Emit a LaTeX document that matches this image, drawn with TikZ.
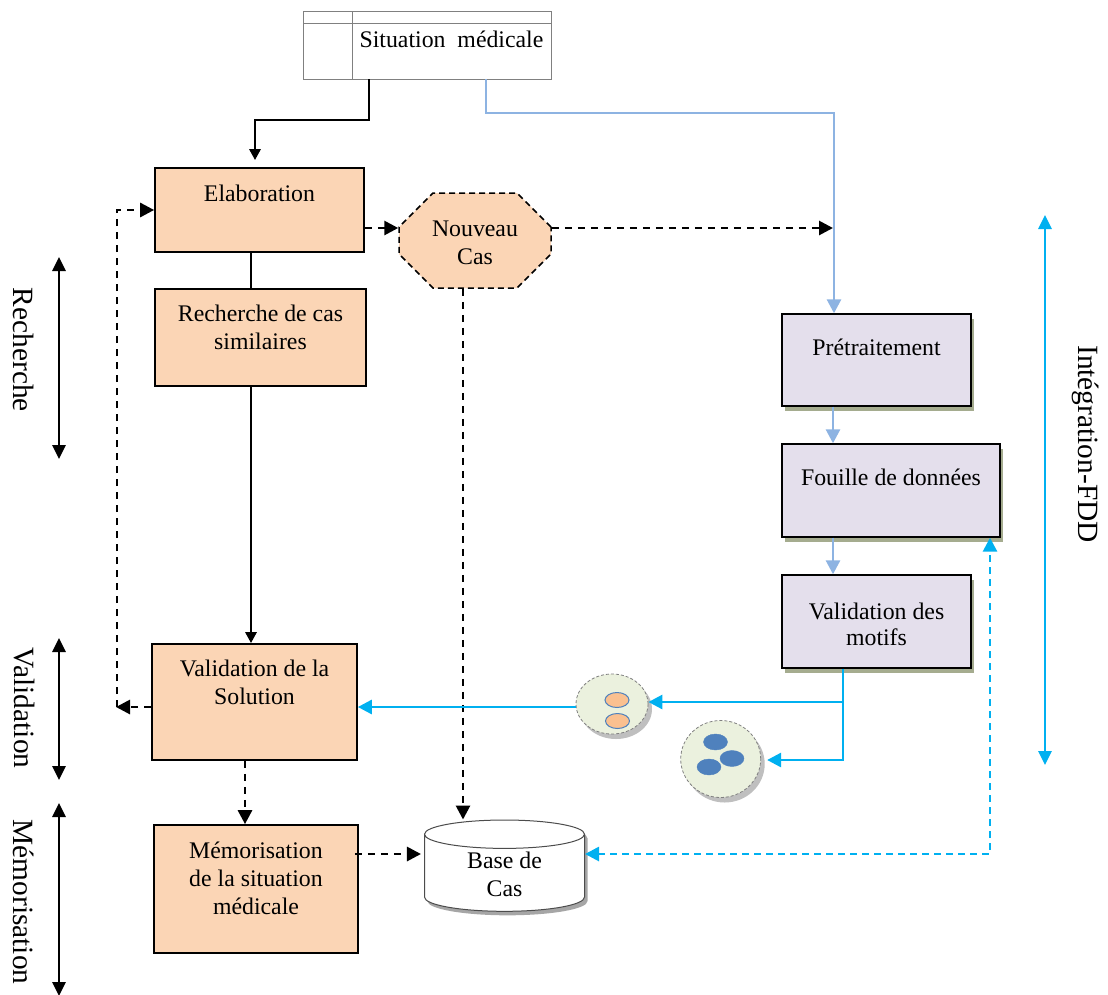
\documentclass[tikz,border=0pt]{standalone}
\usepackage{fontspec}
\setmainfont{Liberation Serif}
\usetikzlibrary{shapes.misc,shapes.geometric,arrows.meta,shadows}
\definecolor{peach}{HTML}{FBD5B5}
\definecolor{lilac}{HTML}{E4DFEC}
\definecolor{olivegrey}{HTML}{A5AC8F}
\definecolor{skyline}{HTML}{00B0F0}
\definecolor{paleline}{HTML}{8DB3E2}
\definecolor{palegreen}{HTML}{EBF1DE}
\definecolor{motifblue}{HTML}{4F81BD}
\definecolor{motiforange}{HTML}{FAC090}
\tikzstyle{etape} = [draw, line width=1.7pt, fill=peach, align=center, font=\fontsize{23.8}{28}\selectfont, inner sep=0pt]
\tikzstyle{fdd} = [etape, line width=1.4pt, fill=lilac, drop shadow={shadow xshift=3pt, shadow yshift=-5pt, fill=olivegrey, opacity=1}]
\tikzstyle{lien} = [line width=2.8pt, -{Triangle[length=11pt,width=11pt]}]
\tikzstyle{lienblue} = [line width=2.8pt, color=skyline, -{Triangle[length=14pt,width=14pt]}]
\tikzstyle{lienpale} = [line width=2.8pt, color=paleline, -{Triangle[length=14pt,width=14pt]}]
\tikzstyle{dashlien} = [line width=2.8pt, dash pattern=on 7pt off 6pt, -{Triangle[length=14pt,width=14pt]}]
\tikzstyle{phase} = [line width=2.8pt, {Triangle[length=14pt,width=13pt]}-{Triangle[length=14pt,width=13pt]}]
\tikzstyle{phasetext} = [rotate=-90, font=\fontsize{29.4}{32}\selectfont]
\tikzstyle{motifs} = [ellipse, draw=gray, densely dashed, line width=0.8pt, fill=palegreen, drop shadow={shadow xshift=4pt, shadow yshift=-5pt, fill=black!25, opacity=1}]
\begin{document}
\begin{tikzpicture}[x=1pt,y=-1pt]
\useasboundingbox (0,0) rectangle (1108,994);
% colonnes et lignes des liens
\coordinate (colnoir) at (369,0);
\coordinate (colfdd) at (486,0);
\coordinate (coltrait) at (834,0);
\coordinate (colretour) at (117,0);
\coordinate (colbase) at (990,0);
\coordinate (lignecas) at (0,228);
\coordinate (lignevalid) at (0,707);
\coordinate (lignebase) at (0,854);
\coordinate (coudenoir) at (369,120);
\coordinate (coudefdd) at (486,113);
\coordinate (coudebase) at (990,854);
\coordinate (finretour) at (116,707);
\coordinate (fincas) at (833,228);
\coordinate (fourche) at (843,702);
\coordinate (coudemotif) at (843,760);
\coordinate (rechhaut) at (59,257);
\coordinate (rechbas) at (59,459);
\coordinate (validhaut) at (59,638);
\coordinate (validbas) at (59,780);
\coordinate (memohaut) at (59,803);
\coordinate (memobas) at (59,996);
\coordinate (fddhaut) at (1045,215);
\coordinate (fddbas) at (1045,765);
% situation
\node [minimum width=199pt, minimum height=56pt, text depth=24pt, inner sep=0pt, font=\fontsize{23.8}{28}\selectfont] (situation) at (451.5,51) {Situation\ \ médicale};
\draw [color=gray, line width=1pt] (303,11) rectangle (situation.south east);
\draw [color=gray, line width=1pt] (303,23) -- (551,23);
\draw [color=gray, line width=1pt] (352,11) -- (352,79);
% etapes
\node [etape, minimum width=209pt, minimum height=84pt, text depth=34pt] (elaboration) at (259.5,210) {Elaboration};
\node [etape, minimum width=211pt, minimum height=97pt, text depth=20pt] (recherche) at (260.5,337.5) {Recherche de cas\\similaires};
\node [etape, minimum width=205pt, minimum height=116pt, text depth=40pt] (validation) at (254.5,702) {Validation de la\\Solution};
\node [etape, minimum width=204pt, minimum height=128pt, text depth=22pt] (memorisation) at (256,889) {Mémorisation\\de la situation\\médicale};
\node [etape, chamfered rectangle, chamfered rectangle xsep=20pt, chamfered rectangle ysep=14pt, draw, dash pattern=on 6pt off 4pt, line width=1.5pt, minimum width=152pt, minimum height=95pt, text height=48pt] (nouveau) at (475,240.5) {Nouveau\\Cas};
\node [cylinder, shape border rotate=90, aspect=0.38, draw=black!70, line width=1pt, fill=white, minimum width=160pt, minimum height=90pt, align=center, inner sep=0pt, text height=48pt, font=\fontsize{23.8}{28}\selectfont, drop shadow={shadow xshift=3pt, shadow yshift=-4pt, fill=black!35, opacity=1}] (base) at (504.5,873) {Base de\\Cas};
% fouille
\node [fdd, minimum width=189pt, minimum height=92pt, text depth=26pt] (pretraitement) at (876.5,360) {Prétraitement};
\node [fdd, minimum width=218pt, minimum height=93pt, text depth=26pt] (fouille) at (891,490.5) {Fouille de données};
\node [fdd, minimum width=189pt, minimum height=93pt, text height=48pt] (motifsval) at (876.5,621.5) {Validation des\\[-2pt]motifs};
% groupes de motifs
\node [motifs, minimum width=72pt, minimum height=60pt, inner sep=0pt] (groupeA) at (612,704) {};
\node [motifs, minimum width=80pt, minimum height=77pt, inner sep=0pt] (groupeB) at (720.7,759) {};
\draw [color=motifblue, fill=motiforange, line width=1pt] (617,700) ellipse (12pt and 7.5pt);
\draw [color=motifblue, fill=motiforange, line width=1pt] (617.5,721) ellipse (12pt and 7.5pt);
\draw [fill=motifblue, draw=motifblue] (715.5,742) ellipse (12pt and 8pt);
\draw [fill=motifblue, draw=motifblue] (732,758.5) ellipse (12pt and 8pt);
\draw [fill=motifblue, draw=motifblue] (709,767) ellipse (12pt and 8pt);
% liens
\draw [lien, shorten >=7pt] (situation.south -| colnoir) -- (coudenoir) -| ([xshift=-4.5pt]elaboration.north);
\draw [line width=2.8pt] ([xshift=-8.5pt]elaboration.south) -- ([xshift=-9.5pt]recherche.north);
\draw [lien] ([xshift=-9.5pt]recherche.south) -- ([xshift=-3.5pt]validation.north);
\draw [dashlien] (elaboration.east |- lignecas) -- (nouveau.west |- lignecas);
\draw [dashlien] (nouveau.east |- lignecas) -- (fincas);
\draw [dashlien] (nouveau.south -| 463,0) -- (base.north -| 463,0);
\draw [dashlien] (validation.west |- lignevalid) -- (finretour);
\draw [dashlien] (colretour |- lignevalid) -- (colretour |- elaboration.west) -- (elaboration.west);
\draw [dashlien] ([xshift=-9.5pt]validation.south) -- ([xshift=-11pt]memorisation.north);
\draw [dashlien, shorten >=3pt] ([xshift=-4pt]memorisation.east |- lignebase) -- (base.west |- lignebase);
\draw [lienpale] (situation.south -| colfdd) -- (coudefdd) -| (pretraitement.north -| coltrait);
\draw [lienpale] (pretraitement.south -| 833,0) -- (fouille.north -| 833,0);
\draw [lienpale] (fouille.south -| 833,0) -- (motifsval.north -| 833,0);
\draw [lienblue, shorten >=6pt] (motifsval.south -| fourche) -- (coudemotif) -- (groupeB.east |- coudemotif);
\draw [lienblue] (fourche) -- (groupeA.east |- fourche);
\draw [lienblue] (groupeA.west |- lignevalid) -- (validation.east |- lignevalid);
\draw [lienblue, dash pattern=on 7pt off 5pt, {Triangle[length=14pt,width=14pt]}-{Triangle[length=14pt,width=14pt]}] (base.east |- lignebase) -- (coudebase) -- (fouille.south -| colbase);
% phases
\draw [phase] (rechhaut) -- (rechbas);
\draw [phase] (validhaut) -- (validbas);
\draw [phase] (memohaut) -- (memobas);
\draw [phase, color=skyline] (fddhaut) -- (fddbas);
\node [phasetext] (recherchetxt) at (24,350) {Recherche};
\node [phasetext] (validationtxt) at (24,708) {Validation};
\node [phasetext] (memorisationtxt) at (24,902) {Mémorisation};
\node [phasetext] (fddtxt) at (1086,444) {Intégration-FDD};
\end{tikzpicture}
\end{document}
